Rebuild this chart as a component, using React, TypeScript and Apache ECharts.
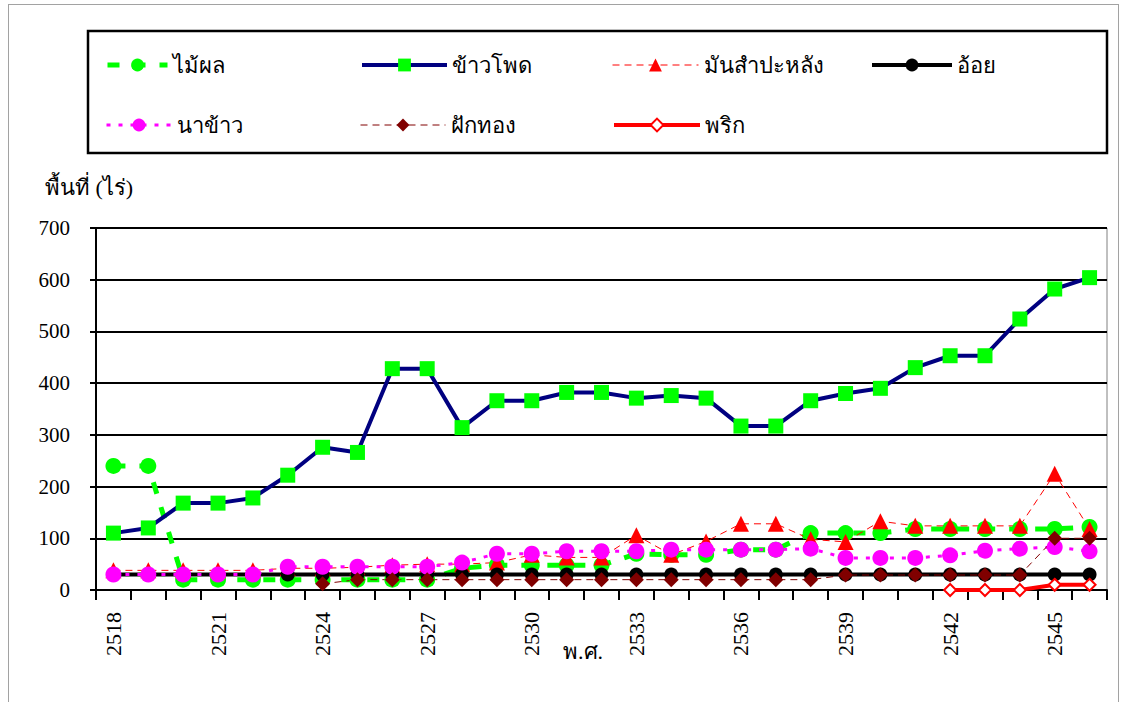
import React, { useEffect, useRef } from 'react';
import * as echarts from 'echarts';

const years = ['2518','2519','2520','2521','2522','2523','2524','2525','2526','2527','2528','2529','2530','2531','2532','2533','2534','2535','2536','2537','2538','2539','2540','2541','2542','2543','2544','2545','2546'];

const fruit = [240,240,20,20,20,20,20,20,20,20,42,48,48,48,48,70,68,68,78,78,110,110,110,118,118,118,118,118,122];
const corn = [110,120,168,168,178,222,276,266,428,428,314,366,366,382,382,371,376,371,317,317,366,380,390,430,453,453,524,582,604];
const cassava = [38,38,38,38,38,42,42,44,48,50,50,53,68,63,63,106,68,94,128,128,98,93,133,124,124,124,124,225,118];
const sugarcane = [30,30,30,30,30,30,30,30,30,30,30,30,30,30,30,30,30,30,30,30,30,30,30,30,30,30,30,30,30];
const rice = [30,30,30,30,30,45,45,45,45,45,53,70,70,75,75,75,78,78,78,78,80,62,62,62,67,76,80,83,75];
const pumpkin = [null,null,null,null,null,null,12,20,20,20,20,20,20,20,20,20,20,20,20,20,20,29,29,29,29,29,29,100,100];
const chili = [null,null,null,null,null,null,null,null,null,null,null,null,null,null,null,null,null,null,null,null,null,null,null,null,0,0,0,10,10];

const yTicks = { min: 0, max: 700, interval: 100 };

const serif = "'Liberation Serif', 'DejaVu Serif', serif";

export default function App() {
  const ref = useRef<HTMLDivElement>(null);
  useEffect(() => {
    if (!ref.current) return;
    const chart = echarts.init(ref.current, null, { renderer: 'svg' });
    const legendText = { fontFamily: serif, fontSize: 22, color: '#000' };
    const mkLegend = (name: string, left: number, top: number, w: number) => ({
      data: [name], left, top, itemWidth: w, itemHeight: 16, padding: 0, itemGap: 0,
      textStyle: legendText, selectedMode: false,
      lineStyle: { width: 'inherit' },
    });
    chart.setOption({
      animation: false,
      backgroundColor: '#fff',
      grid: { left: 96, right: 18, top: 228, bottom: 112, show: true, borderColor: '#808080', borderWidth: 1 },
      legend: [
        mkLegend('ไม้ผล', 105, 54, 60),
        mkLegend('ข้าวโพด', 360, 54, 85),
        mkLegend('มันสำปะหลัง', 612, 54, 86),
        mkLegend('อ้อย', 870, 54, 80),
        mkLegend('นาข้าว', 105, 114, 65),
        mkLegend('ฝักทอง', 360, 114, 85),
        mkLegend('พริก', 612, 114, 86),
      ],
      graphic: [
        { type: 'rect', shape: { x: 8.5, y: 4.5, width: 1110, height: 720 }, style: { fill: 'none', stroke: '#444', lineWidth: 1, lineDash: [1, 1] }, silent: true },
        { type: 'rect', shape: { x: 88, y: 31, width: 1019, height: 122 }, style: { fill: 'none', stroke: '#000', lineWidth: 2.5 }, silent: true },
        { type: 'text', left: 45, top: 176, style: { text: 'พื้นที่ (ไร่)', fontFamily: serif, fontSize: 22, fill: '#000' } },
        { type: 'text', left: 563, top: 640, style: { text: 'พ.ศ.', fontFamily: serif, fontSize: 22, fill: '#000' } },
      ],
      xAxis: {
        type: 'category', data: years, boundaryGap: true,
        axisLine: { lineStyle: { color: '#000', width: 2 } },
        axisTick: { show: true, interval: 0, length: 10, lineStyle: { color: '#000', width: 2 } },
        axisLabel: { interval: 2, rotate: 90, margin: 22, fontFamily: serif, fontSize: 22, color: '#000' },
        splitLine: { show: false },
      },
      yAxis: {
        type: 'value', min: yTicks.min, max: yTicks.max, interval: yTicks.interval,
        axisLine: { show: true, lineStyle: { color: '#000', width: 2 } },
        axisTick: { show: true, length: 6, lineStyle: { color: '#000', width: 2 } },
        axisLabel: { margin: 26, fontFamily: serif, fontSize: 21, color: '#000' },
        splitLine: { show: true, lineStyle: { color: '#000', width: 2 } },
      },
      series: [
        { name: 'ไม้ผล', type: 'line', data: fruit, symbol: 'circle', symbolSize: 16,
          itemStyle: { color: '#00ff00' }, lineStyle: { color: '#00ff00', width: 5, type: [12, 14] } },
        { name: 'ข้าวโพด', type: 'line', data: corn, symbol: 'rect', symbolSize: 15,
          itemStyle: { color: '#00ff00' }, lineStyle: { color: '#000080', width: 4 } },
        { name: 'มันสำปะหลัง', type: 'line', data: cassava, symbol: 'triangle', symbolSize: 16,
          itemStyle: { color: '#ff0000' }, lineStyle: { color: '#ff0000', width: 1, type: [7, 5] } },
        { name: 'อ้อย', type: 'line', data: sugarcane, symbol: 'circle', symbolSize: 14,
          itemStyle: { color: '#000' }, lineStyle: { color: '#000', width: 4 } },
        { name: 'นาข้าว', type: 'line', data: rice, symbol: 'circle', symbolSize: 16,
          itemStyle: { color: '#ff00ff' }, lineStyle: { color: '#ff00ff', width: 3, type: [4, 8] } },
        { name: 'ฝักทอง', type: 'line', data: pumpkin, symbol: 'diamond', symbolSize: 15,
          itemStyle: { color: '#800000' }, lineStyle: { color: '#800000', width: 1, type: [7, 5] } },
        { name: 'พริก', type: 'line', data: chili, symbol: 'emptyDiamond', symbolSize: 12,
          itemStyle: { color: '#ff0000', borderWidth: 2 }, lineStyle: { color: '#ff0000', width: 4 } },
      ],
    });
    return () => chart.dispose();
  }, []);
  return <div ref={ref} style={{ position: 'fixed', left: 0, top: 0, width: 1125, height: 702 }} />;
}
